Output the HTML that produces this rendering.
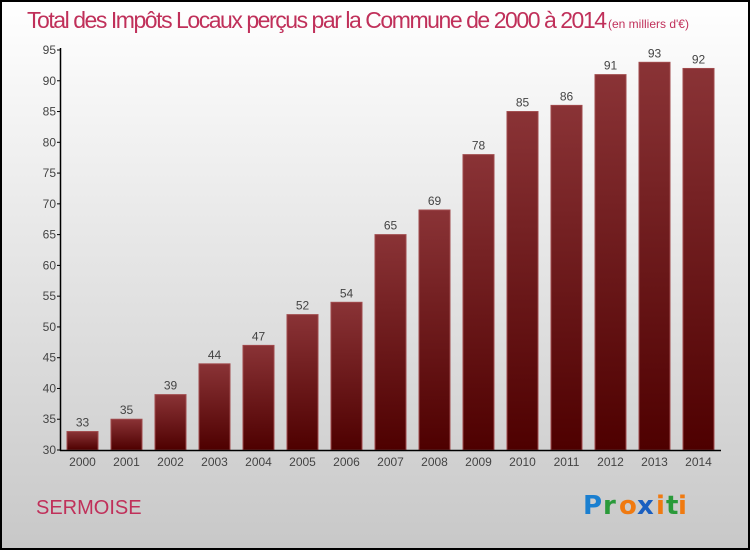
<!DOCTYPE html>
<html><head><meta charset="utf-8"><style>
html,body{margin:0;padding:0;}
body{width:750px;height:550px;overflow:hidden;font-family:"Liberation Sans",sans-serif;}
</style></head><body>
<svg id="chart" width="750" height="550" xmlns="http://www.w3.org/2000/svg">
<defs>
<linearGradient id="bg" x1="0" y1="0" x2="0" y2="1"><stop offset="0" stop-color="#ffffff"/><stop offset="1" stop-color="#c8c8c8"/></linearGradient>
<linearGradient id="bar" x1="0" y1="0" x2="0" y2="1"><stop offset="0" stop-color="#8a3336"/><stop offset="1" stop-color="#4e0000"/></linearGradient>
</defs>
<rect x="1" y="1" width="748" height="548" fill="url(#bg)" stroke="#000" stroke-width="2"/>
<text x="27" y="28" font-size="23" fill="#c0305a" font-weight="300" textLength="580">Total des Impôts Locaux perçus par la Commune de 2000 à 2014</text>
<text x="608" y="28" font-size="12" fill="#c0305a">(en milliers d'€)</text>
<g id="bars"></g>
<g id="axes"></g>
<text x="36" y="514" font-size="20" fill="#c0305a">SERMOISE</text>
<g font-size="26" font-family="'DejaVu Sans',sans-serif" font-weight="bold">
<text x="583" y="514" fill="#1a7fd0">P</text><text x="603" y="514" fill="#2a9a3a">r</text><text x="619" y="514" fill="#f07a10">o</text><text x="637" y="514" fill="#1a5fc0">x</text><text x="656" y="514" fill="#f07a10">i</text><text x="666" y="514" fill="#2a9a3a">t</text><text x="678" y="514" fill="#f07a10">i</text>
</g>
</svg>
<script>
const years=["2000","2001","2002","2003","2004","2005","2006","2007","2008","2009","2010","2011","2012","2013","2014"];
const values=[33,35,39,44,47,52,54,65,69,78,85,86,91,93,92];
const yTicks=[30,35,40,45,50,55,60,65,70,75,80,85,90,95];
const NS="http://www.w3.org/2000/svg";
const yScale=v=>450-(v-30)*400/65;
const xCenter=i=>82.5+i*44;
function mk(tag,attrs,parent){const e=document.createElementNS(NS,tag);for(const k in attrs)e.setAttribute(k,attrs[k]);parent.appendChild(e);return e;}
const bars=document.getElementById('bars'),axes=document.getElementById('axes');
values.forEach((v,i)=>{
 const y=yScale(v);
 const r=mk('rect',{x:xCenter(i)-15.5,y:y,width:31,height:450-y,fill:'url(#bar)',stroke:'#a04a4c','stroke-width':1},bars);
 
 
 const t=mk('text',{x:xCenter(i),y:y-5,'text-anchor':'middle','font-size':12,fill:'#444'},bars);
 t.textContent=v;
 
 
 const xl=mk('text',{x:xCenter(i),y:466,'text-anchor':'middle','font-size':12,fill:'#444'},axes);
 xl.textContent=years[i];
 
 
});
const ya=mk('line',{x1:60.5,y1:48,x2:60.5,y2:451,stroke:'#000','stroke-width':1.5},axes);


const xa=mk('line',{x1:60,y1:450.5,x2:721,y2:450.5,stroke:'#000','stroke-width':1.5},axes);


yTicks.forEach(v=>{
 const y=yScale(v);
 mk('line',{x1:57,y1:y,x2:61,y2:y,stroke:'#000'},axes);
 const t=mk('text',{x:56,y:y+4,'text-anchor':'end','font-size':12,fill:'#444'},axes);
 t.textContent=v;
 
 
});
</script>
</body></html>
